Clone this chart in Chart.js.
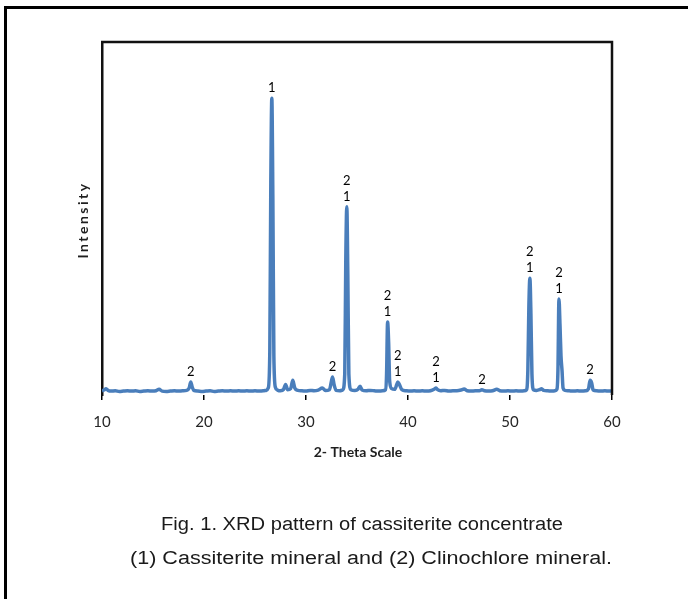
<!DOCTYPE html>
<html>
<head>
<meta charset="utf-8">
<script src="https://cdn.jsdelivr.net/npm/chart.js@4.4.1/dist/chart.umd.min.js"></script>
<style>
  html, body { margin:0; padding:0; background:#fff; overflow:hidden; width:688px; height:599px; }
  #frame { position:absolute; left:4px; top:6px; width:800px; height:800px; border:3px solid #000; }
  #wrap { position:absolute; left:0; top:0; width:688px; height:599px; }
  .cap { position:absolute; display:inline-block; font-family:"Liberation Sans", Arial, sans-serif; font-size:18px; line-height:22px; color:#1a1a1a; white-space:nowrap; transform-origin:0 0; }
</style>
</head>
<body>
<div id="frame"></div>
<div id="wrap"><canvas id="c" width="688" height="599"></canvas></div>
<span class="cap" data-left="161" data-w="402" style="top:513px;">Fig. 1. XRD pattern of cassiterite concentrate</span>
<span class="cap" data-left="130" data-w="482" style="top:547px;">(1) Cassiterite mineral and (2) Clinochlore mineral.</span>
<script>
// 2-theta positions (degrees)
const twoTheta = [
  10.0,10.2,10.4,10.6,10.9,11.3,11.7,12.1,12.5,12.9,13.3,13.7,14.1,14.5,14.9,15.3,15.6,15.9,16.3,16.7,
  17.1,17.5,17.9,18.3,18.55,18.7,18.85,19.0,19.4,19.8,20.2,20.6,21.0,21.4,21.8,22.2,22.6,23.0,23.4,23.8,
  24.2,24.6,25.0,25.4,25.8,26.1,26.3,26.45,26.55,26.65,26.75,26.85,27.0,27.2,27.5,27.8,28.0,28.2,28.5,28.7,
  28.9,29.2,29.6,30.0,30.4,30.8,31.2,31.6,31.9,32.3,32.5,32.6,32.75,32.95,33.3,33.6,33.8,33.9,34.0,34.1,
  34.2,34.4,34.8,35.1,35.3,35.5,35.9,36.3,36.7,37.1,37.5,37.8,37.9,38.0,38.1,38.2,38.4,38.7,38.9,39.0,
  39.15,39.4,39.8,40.2,40.6,41.0,41.4,41.8,42.2,42.6,42.75,42.9,43.2,43.6,44.0,44.4,44.8,45.2,45.5,45.8,
  46.2,46.6,47.0,47.25,47.5,47.9,48.3,48.7,49.0,49.4,49.8,50.2,50.6,51.0,51.4,51.6,51.75,51.85,51.95,52.05,
  52.15,52.3,52.6,52.9,53.1,53.3,53.7,54.1,54.4,54.6,54.7,54.8,54.9,55.0,55.1,55.2,55.4,55.8,56.2,56.6,
  57.0,57.4,57.7,57.85,58.0,58.15,58.5,58.9,59.3,59.7,60.0
];
// intensity (arbitrary units)
const intensity = [
  12,14,18,13,11,12,10,11,12,11,12,10,11,12,11,12,16,11,10,11,
  12,11,12,13,20,37,22,13,11,10,11,12,10,11,12,11,12,11,12,11,
  12,11,12,11,12,13,20,120,600,841,560,110,22,14,12,16,30,15,18,42,
  20,13,12,11,13,12,14,20,13,15,40,51,30,13,12,14,60,380,533,340,
  60,15,13,16,25,14,12,13,12,11,12,15,60,207,150,40,18,16,30,37,
  30,15,12,11,12,11,12,11,12,17,20,15,12,13,11,12,12,14,17,12,
  11,12,12,15,12,11,12,16,12,11,12,11,12,11,12,14,70,250,331,230,
  60,15,13,15,18,13,12,11,12,16,70,272,200,110,70,20,13,12,11,12,
  11,12,18,42,35,14,12,11,12,11,12
];
// x tick values
const xTicks = [10,20,30,40,50,60];
// peak annotations: position, peak intensity, phase labels (top to bottom)
const peakX     = [18.7, 26.65, 32.6, 34.0, 38.0, 39.0, 42.75, 47.25, 51.95, 54.8, 57.85];
const peakY     = [37,   841,   51,   533,  207,  37,   20,    15,    331,   272,  42];
const peakTexts = [["2"],["1"],["2"],["2","1"],["2","1"],["2","1"],["2","1"],["2"],["2","1"],["2","1"],["2"]];

const points = twoTheta.map((x, i) => ({x, y: intensity[i]}));

// fit captions to their measured span
document.querySelectorAll('.cap').forEach(el => {
  const w = el.getBoundingClientRect().width;
  el.style.left = el.dataset.left + 'px';
  el.style.transform = 'scaleX(' + (Number(el.dataset.w) / w) + ')';
});

const decor = {
  id: 'decor',
  afterDraw(chart) {
    const {ctx, chartArea: a, scales: {x, y}} = chart;
    ctx.save();
    // frame top + right
    ctx.strokeStyle = '#111';
    ctx.lineWidth = 2.5;
    ctx.beginPath();
    ctx.moveTo(a.left - 1, a.top);
    ctx.lineTo(a.right, a.top);
    ctx.lineTo(a.right, a.bottom);
    ctx.stroke();
    // peak labels
    ctx.fillStyle = '#000';
    ctx.font = '13px Lato, sans-serif';
    ctx.textAlign = 'center';
    ctx.textBaseline = 'middle';
    peakX.forEach((px, i) => {
      const cx = x.getPixelForValue(px);
      const cy = y.getPixelForValue(peakY[i]);
      const t = peakTexts[i];
      for (let k = 0; k < t.length; k++) {
        const off = 10 + (t.length - 1 - k) * 16;
        ctx.fillText(t[k], cx, cy - off);
      }
    });
    // axis titles
    ctx.fillStyle = '#1f1f1f';
    ctx.font = 'bold 14px Lato, sans-serif';
    ctx.fillText('2- Theta Scale', (a.left + a.right) / 2 + 1, 452);
    ctx.translate(83, 220);
    ctx.rotate(-Math.PI / 2);
    ctx.letterSpacing = '2.5px';
    ctx.font = 'bold 14px Lato, sans-serif';
    ctx.fillText('Intensity', 0, 0);
    ctx.restore();
  }
};

new Chart(document.getElementById('c'), {
  type: 'line',
  data: {
    datasets: [{
      data: points,
      borderColor: '#4A7EBB',
      borderWidth: 3.5,
      pointRadius: 0,
      cubicInterpolationMode: 'monotone',
      fill: false
    }]
  },
  options: {
    responsive: false,
    animation: false,
    devicePixelRatio: 1,
    layout: { padding: { left: 102, top: 42, right: 76, bottom: 144 } },
    plugins: { legend: { display: false }, tooltip: { enabled: false } },
    scales: {
      x: {
        type: 'linear',
        min: 10, max: 60,
        afterFit(s) { s.height = 60; },
        afterBuildTicks(s) { s.ticks = xTicks.map(v => ({value: v})); },
        ticks: { color: '#262626', font: { family: 'Lato', size: 15 }, padding: 13, maxRotation: 0 },
        grid: { display: true, drawOnChartArea: false, tickLength: 5, color: '#000', lineWidth: 1.5 },
        border: { display: false }
      },
      y: {
        min: 0, max: 1000,
        afterFit(s) { s.width = 0; },
        ticks: { display: false },
        grid: { display: false },
        border: { display: true, color: '#111', width: 2.5 }
      }
    }
  },
  plugins: [decor]
});
</script>
</body>
</html>
